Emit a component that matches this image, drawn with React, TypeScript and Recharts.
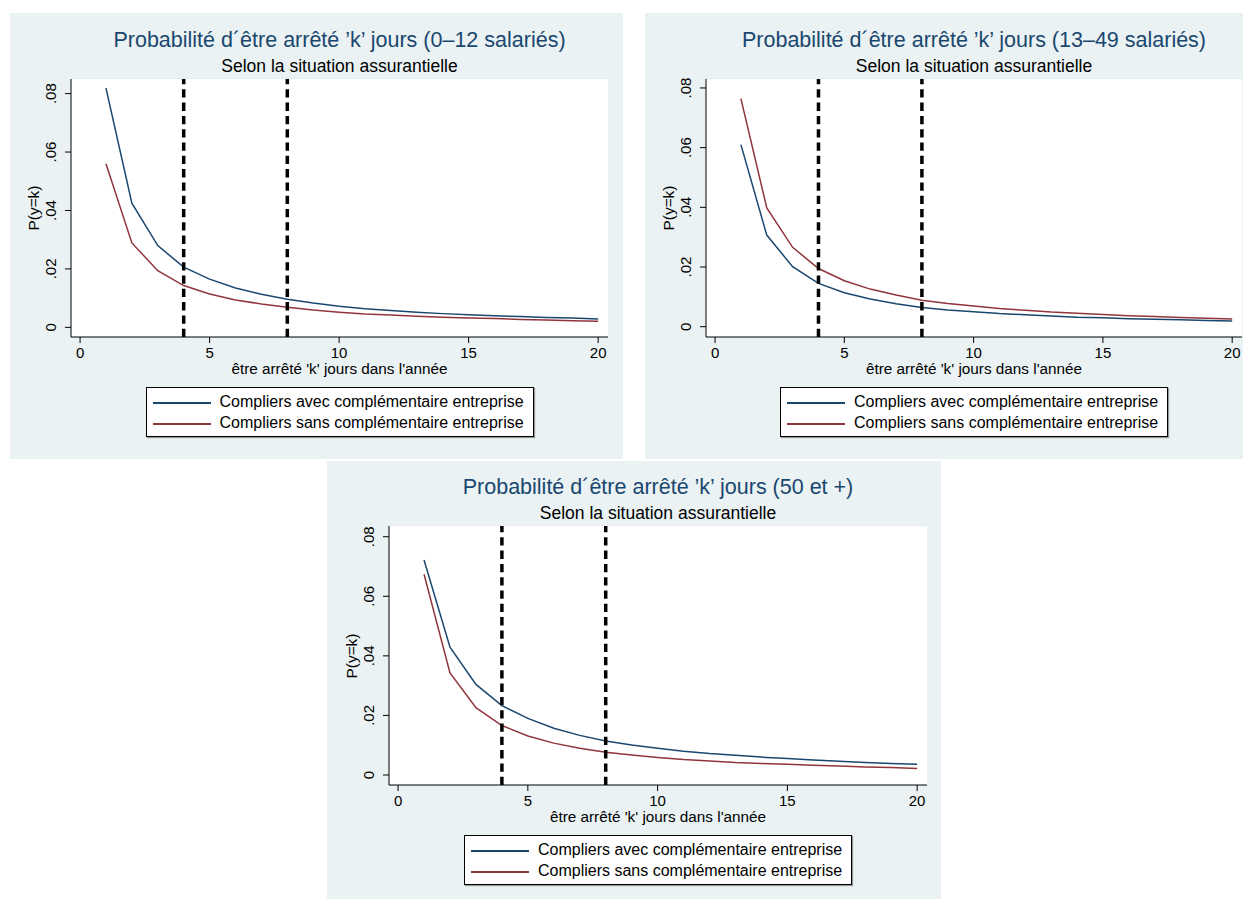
import React from 'react';
import { LineChart, Line, XAxis, YAxis, CartesianGrid, ReferenceLine } from 'recharts';

// jours d'arrêt (k)
const kDays = [1, 2, 3, 4, 5, 6, 7, 8, 9, 10, 11, 12, 13, 14, 15, 16, 17, 18, 19, 20];

// 0-12 salariés
const avec012 = [0.0819, 0.0425, 0.028, 0.0206, 0.0165, 0.0135, 0.0113, 0.0096, 0.0083, 0.0072, 0.0064, 0.0058, 0.0052, 0.0047, 0.0043, 0.004, 0.0037, 0.0034, 0.0032, 0.0029];
const sans012 = [0.056, 0.0289, 0.0194, 0.0143, 0.0114, 0.0094, 0.008, 0.0069, 0.0059, 0.0052, 0.0046, 0.0042, 0.0038, 0.0035, 0.0032, 0.003, 0.0027, 0.0025, 0.0023, 0.0021];

// 13-49 salariés
const avec1349 = [0.061, 0.0307, 0.0201, 0.0145, 0.0114, 0.0093, 0.0077, 0.0064, 0.0056, 0.005, 0.0044, 0.004, 0.0036, 0.0032, 0.003, 0.0027, 0.0025, 0.0023, 0.0021, 0.0019];
const sans1349 = [0.0764, 0.0398, 0.0266, 0.0195, 0.0154, 0.0126, 0.0106, 0.0089, 0.0078, 0.0069, 0.0061, 0.0055, 0.0049, 0.0045, 0.0041, 0.0037, 0.0034, 0.0031, 0.0028, 0.0026];

// 50 et +
const avec50 = [0.0722, 0.0429, 0.0304, 0.0233, 0.019, 0.0157, 0.0133, 0.0114, 0.0101, 0.009, 0.008, 0.0072, 0.0066, 0.006, 0.0055, 0.005, 0.0046, 0.0042, 0.0039, 0.0036];
const sans50 = [0.0674, 0.0343, 0.0226, 0.0166, 0.0131, 0.0107, 0.009, 0.0076, 0.0067, 0.0059, 0.0052, 0.0047, 0.0042, 0.0039, 0.0036, 0.0033, 0.003, 0.0027, 0.0025, 0.0022];

const xTicks = [0, 5, 10, 15, 20];
const yTicks = [0, 0.02, 0.04, 0.06, 0.08];
const yTickLabels = ['0', '.02', '.04', '.06', '.08'];
const seuils = [4, 8];

const titres = [
  'Probabilité d´être arrêté ’k’ jours (0–12 salariés)',
  'Probabilité d´être arrêté ’k’ jours (13–49 salariés)',
  'Probabilité d´être arrêté ’k’ jours (50 et +)',
];
const sousTitre = 'Selon la situation assurantielle';
const xLabel = "être arrêté 'k' jours dans l'année";
const yLabel = 'P(y=k)';
const serieNoms = ['Compliers avec complémentaire entreprise', 'Compliers sans complémentaire entreprise'];

const BLEU = '#1a476f';
const ROUGE = '#90353b';
const FOND = '#eaf2f3';
const FONT = '"Liberation Sans", Arial, Helvetica, sans-serif';

interface PanelProps {
  left: number;
  top: number;
  width: number;
  height: number;
  plotLeft: number;
  plotTop: number;
  plotWidth: number;
  yMin: number;
  yMax: number;
  titre: string;
  avec: number[];
  sans: number[];
}

const YTick = (props: any) => {
  const { x, y, payload } = props;
  const cx = x - 12;
  const i = yTicks.indexOf(payload.value);
  return (
    <text x={cx} y={y} dy="0.35em" textAnchor="middle" fontSize={15} fill="#000" fontFamily={FONT}
      transform={`rotate(-90 ${cx} ${y})`}>
      {i >= 0 ? yTickLabels[i] : ''}
    </text>
  );
};

const Panel: React.FC<PanelProps> = (p) => {
  const data = kDays.map((k, i) => ({ k, avec: p.avec[i], sans: p.sans[i] }));
  const plotBottom = 324;
  const xAxisH = 30;
  const centreX = p.plotLeft + p.plotWidth / 2;

  return (
    <div style={{ position: 'absolute', left: p.left, top: p.top, width: p.width, height: p.height, background: FOND, fontFamily: FONT }}>
      <div style={{ position: 'absolute', left: centreX - 300, width: 600, top: p.plotTop - 54, height: 30, lineHeight: '30px', textAlign: 'center', fontSize: 21.5, color: BLEU, whiteSpace: 'nowrap' }}>
        {p.titre}
      </div>
      <div style={{ position: 'absolute', left: centreX - 300, width: 600, top: p.plotTop - 25, height: 24, lineHeight: '24px', textAlign: 'center', fontSize: 17.5, color: '#000', whiteSpace: 'nowrap' }}>
        {sousTitre}
      </div>

      <div style={{ position: 'absolute', left: 0, top: 0 }}>
        <LineChart
          width={p.width}
          height={p.height}
          data={data}
          margin={{ top: p.plotTop, right: p.width - p.plotLeft - p.plotWidth, left: 0, bottom: p.height - plotBottom - xAxisH }}
        >
          <rect x={p.plotLeft} y={p.plotTop} width={p.plotWidth} height={plotBottom - p.plotTop} fill="#fff" />
          <CartesianGrid horizontal vertical={false} stroke="#e0eaec" strokeWidth={1.3} fill="#ffffff" />
          <XAxis
            dataKey="k"
            type="number"
            domain={[-0.35, 20.38]}
            allowDataOverflow
            ticks={xTicks}
            height={xAxisH}
            tickSize={6}
            tickMargin={4}
            tick={{ fontSize: 15, fill: '#000', fontFamily: FONT }}
            axisLine={{ stroke: '#000' }}
            tickLine={{ stroke: '#000' }}
          />
          <YAxis
            type="number"
            domain={[p.yMin, p.yMax]}
            allowDataOverflow
            ticks={yTicks}
            width={p.plotLeft}
            tickSize={6}
            tick={YTick}
            axisLine={{ stroke: '#000' }}
            tickLine={{ stroke: '#000' }}
          />
          <Line type="linear" dataKey="avec" stroke={BLEU} strokeWidth={1.5} dot={false} isAnimationActive={false} />
          <Line type="linear" dataKey="sans" stroke={ROUGE} strokeWidth={1.5} dot={false} isAnimationActive={false} />
          {seuils.map((s) => (
            <ReferenceLine key={s} x={s} stroke="#000" strokeWidth={3.5} strokeDasharray="8.3 5" />
          ))}
        </LineChart>
      </div>

      <div style={{ position: 'absolute', left: p.plotLeft - 37 - 50, top: (p.plotTop + plotBottom) / 2 - 10, width: 100, height: 20, lineHeight: '20px', textAlign: 'center', fontSize: 15.4, color: '#000', transform: 'rotate(-90deg)' }}>
        {yLabel}
      </div>
      <div style={{ position: 'absolute', left: centreX - 200, width: 400, top: 345, height: 22, lineHeight: '22px', textAlign: 'center', fontSize: 15.3, color: '#000', whiteSpace: 'nowrap' }}>
        {xLabel}
      </div>

      <div style={{ position: 'absolute', left: centreX - 194, top: 374, width: 386, height: 48, border: '1px solid #000', background: '#fff', boxShadow: '1px 1px 1px #999' }}>
        {serieNoms.map((nom, i) => (
          <React.Fragment key={nom}>
            <div style={{ position: 'absolute', left: 6, width: 58, top: i === 0 ? 14 : 35, height: 1.5, background: i === 0 ? BLEU : ROUGE }} />
            <div style={{ position: 'absolute', left: 73, top: (i === 0 ? 14 : 35) - 11, height: 22, lineHeight: '22px', fontSize: 16, color: '#000', whiteSpace: 'nowrap' }}>
              {nom}
            </div>
          </React.Fragment>
        ))}
      </div>
    </div>
  );
};

export default function App() {
  return (
    <div style={{ position: 'absolute', left: 0, top: 0, width: 1245, height: 900, background: '#fff' }}>
      <Panel left={10} top={13} width={613} height={446} plotLeft={61} plotTop={66} plotWidth={537}
        yMin={-0.0033} yMax={0.085} titre={titres[0]} avec={avec012} sans={sans012} />
      <Panel left={645} top={13} width={598} height={446} plotLeft={61} plotTop={66} plotWidth={536}
        yMin={-0.00345} yMax={0.083} titre={titres[1]} avec={avec1349} sans={sans1349} />
      <Panel left={327} top={461} width={614} height={438} plotLeft={62} plotTop={65} plotWidth={538}
        yMin={-0.00336} yMax={0.0836} titre={titres[2]} avec={avec50} sans={sans50} />
    </div>
  );
}
